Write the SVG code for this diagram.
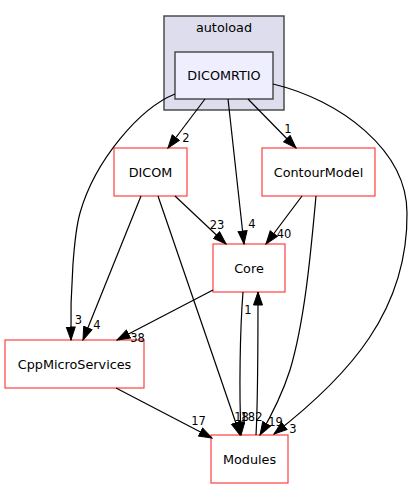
<svg xmlns="http://www.w3.org/2000/svg" width="413" height="489" viewBox="0 0 413 489">
<style>
.node{fill:#ffffff;stroke:#ff4040;stroke-width:1.2}
.cl{fill:#ddddee;stroke:#404040;stroke-width:1.4}
.main{fill:#eeeeff;stroke:#404040;stroke-width:1.4}
.t{font-family:"DejaVu Sans",sans-serif;font-size:12.8px;text-anchor:middle;fill:#000}
.e{fill:none;stroke:#000;stroke-width:1.2;marker-end:url(#ah)}
.l{font-family:"DejaVu Sans",sans-serif;font-size:11.5px;text-anchor:middle;fill:#000}
</style>
<defs>
<marker id="ah" markerUnits="userSpaceOnUse" markerWidth="15" markerHeight="11" refX="13.5" refY="5" orient="auto" viewBox="0 0 15 11">
<path d="M0.5,0.5 L13.5,5 L0.5,9.5 z" fill="#000" stroke="#000" stroke-width="1"/>
</marker>
</defs>
<rect width="413" height="489" fill="#ffffff"/>
<g id="cluster_autoload">
<rect class="cl" x="164" y="16" width="120" height="94"/>
<text class="t" x="224" y="32">autoload</text>
</g>
<g id="node_DICOMRTIO">
<rect class="main" x="175" y="52" width="98" height="47"/>
<text class="t" x="224" y="80">DICOMRTIO</text>
</g>
<g id="node_DICOM">
<rect class="node" x="114" y="148" width="73" height="48"/>
<text class="t" x="150.5" y="176.5">DICOM</text>
</g>
<g id="node_ContourModel">
<rect class="node" x="262" y="148" width="113" height="48"/>
<text class="t" x="318.5" y="176.5">ContourModel</text>
</g>
<g id="node_Core">
<rect class="node" x="213" y="244" width="72" height="48"/>
<text class="t" x="249" y="272.5">Core</text>
</g>
<g id="node_CppMicroServices">
<rect class="node" x="5" y="340" width="139" height="48"/>
<text class="t" x="74.5" y="368.5">CppMicroServices</text>
</g>
<g id="node_Modules">
<rect class="node" x="211" y="435" width="77" height="48"/>
<text class="t" x="249.5" y="463.5">Modules</text>
</g>
<g id="connectors">
<path class="e" d="M205,99 L168,148"/>
<text class="l" x="186" y="142">2</text>
<path class="e" d="M228,99 L244,244"/>
<text class="l" x="252" y="228">4</text>
<path class="e" d="M248,99 L296,148"/>
<text class="l" x="288" y="133">1</text>
<path class="e" d="M175,94 C140,108 95,160 80,213 C74,234 70,290 71,340"/>
<text class="l" x="78.5" y="324">3</text>
<path class="e" d="M273,84 C340,100 407,150 407,213 C408,310 350,375 274,434"/>
<text class="l" x="293" y="433">3</text>
<path class="e" d="M175,196 L226,244"/>
<text class="l" x="217" y="229">23</text>
<path class="e" d="M141,196 L83,340"/>
<text class="l" x="97" y="329">4</text>
<path class="e" d="M158,196 L240,435"/>
<text class="l" x="241.5" y="421">18</text>
<path class="e" d="M302,196 L266,244"/>
<text class="l" x="284" y="238">40</text>
<path class="e" d="M316,196 C311,250 305,320 290,370 C282,395 270,418 260,435"/>
<text class="l" x="275.5" y="426">19</text>
<path class="e" d="M213,290 L117,340"/>
<text class="l" x="137.5" y="342">38</text>
<path class="e" d="M243,292 C240,330 239,390 241,435"/>
<text class="l" x="251.5" y="421">182</text>
<path class="e" d="M256,435 C258,400 258,340 258,292"/>
<text class="l" x="248" y="314">1</text>
<path class="e" d="M116,388 L212,438"/>
<text class="l" x="198.5" y="425">17</text>
</g>
</svg>
